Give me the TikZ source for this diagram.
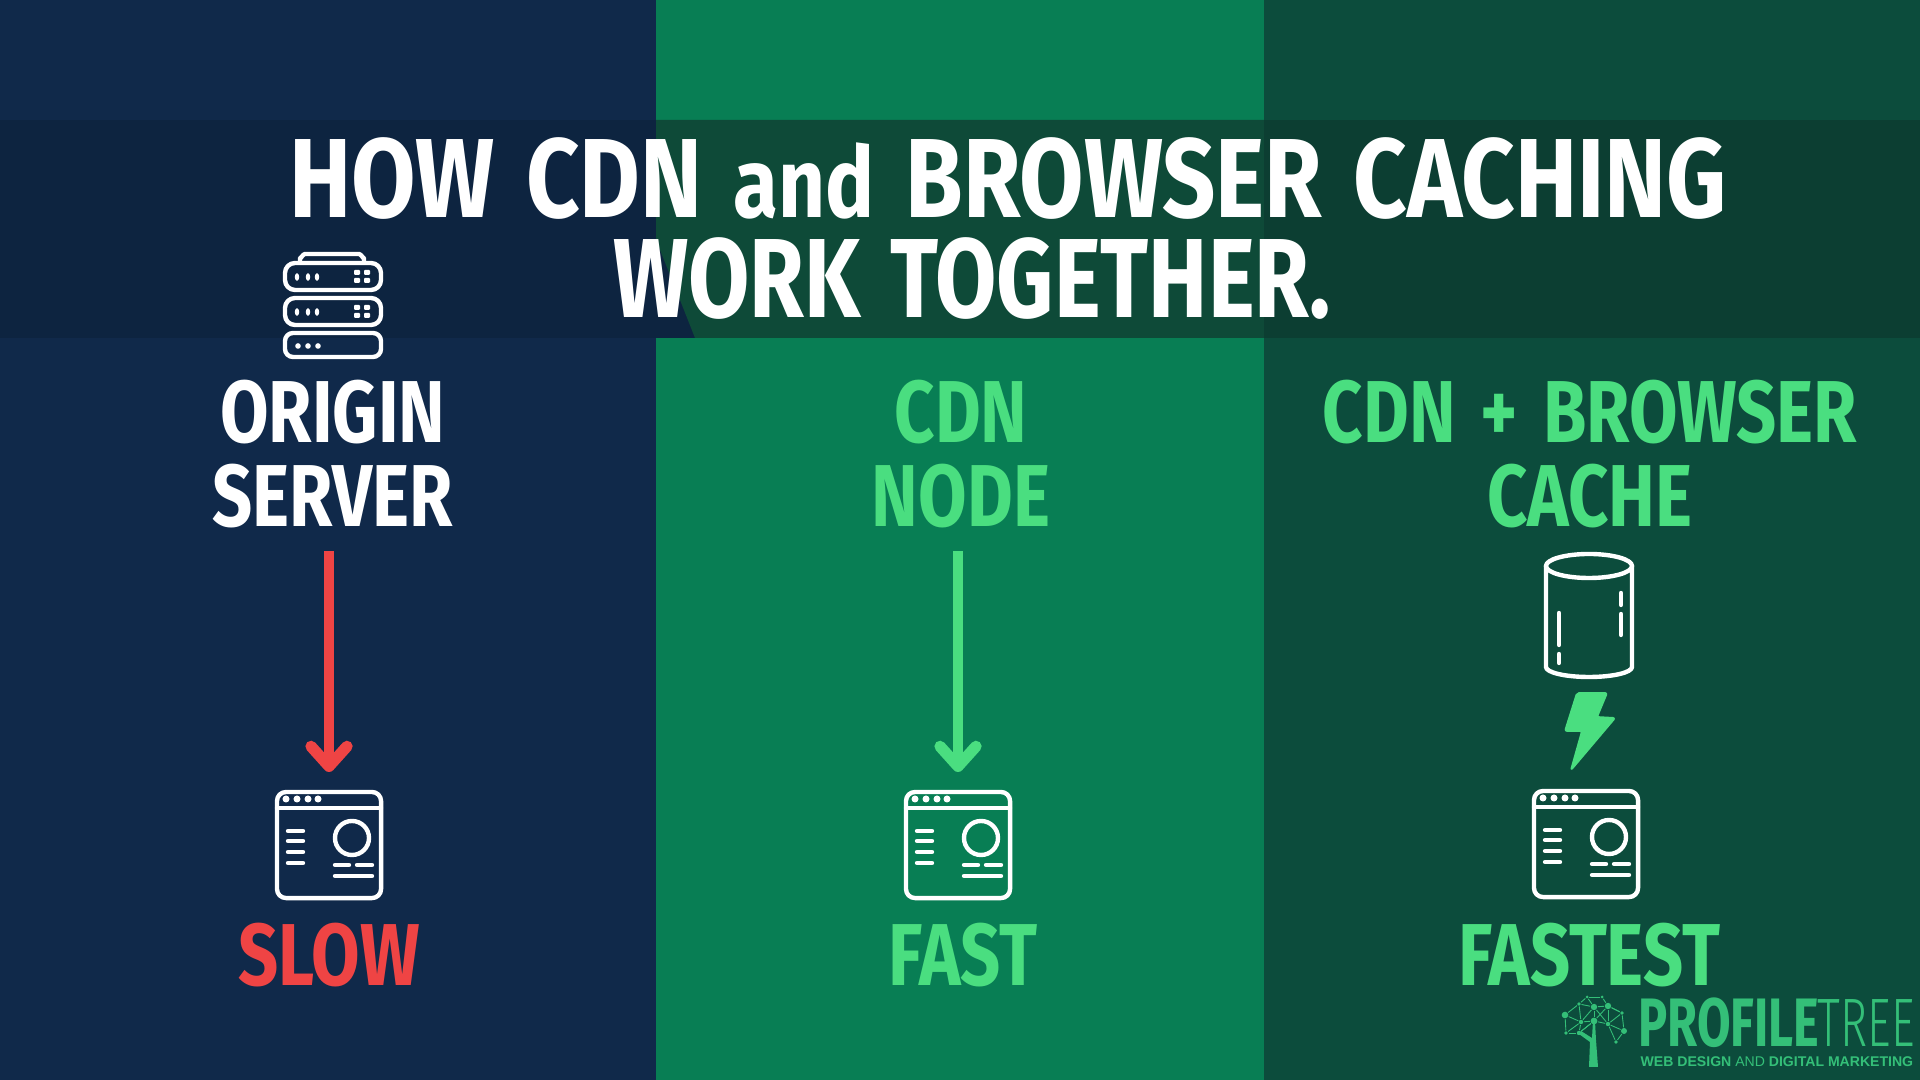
\documentclass[tikz,border=0pt]{standalone}
\usepackage{fontspec}
\setmainfont{Fira Sans}
\newfontfamily\headfont[FakeStretch=0.8,WordSpace=1.5]{Fira Sans}
\newfontfamily\titlefont[FakeStretch=0.83,WordSpace=1.4]{Fira Sans}
\newfontfamily\titlefontb[FakeStretch=0.79,WordSpace=1.4]{Fira Sans}
\newfontfamily\logofont[FakeStretch=0.71]{Fira Sans}
\newfontfamily\treefont[FakeStretch=0.67,UprightFont=* Light]{Fira Sans}
\newfontfamily\tagfont{Liberation Sans}
\definecolor{navypanel}{HTML}{10294A}
\definecolor{greenpanel}{HTML}{087E54}
\definecolor{darkpanel}{HTML}{0C4C3C}
\definecolor{bandnavy}{HTML}{0D2440}
\definecolor{bandgreen}{HTML}{0E4A38}
\definecolor{banddark}{HTML}{0C3E32}
\definecolor{fastgreen}{HTML}{4ADE80}
\definecolor{slowred}{HTML}{EF4444}
\definecolor{logogreen}{HTML}{34BF78}
\usetikzlibrary{arrows.meta,positioning,calc}
\tikzset{
    icon/.style={draw=white, line width=1.25pt, line cap=round, line join=round},
    dotmark/.style={fill=white, draw=none},
    title/.style={anchor=base, text=white, inner sep=0},
    label/.style={anchor=base, inner sep=0, font=\headfont\bfseries\fontsize{25}{25}\selectfont},
    flow/.style={line width=3.1pt, -{Straight Barb[round,length=2mm,width=3.6mm,line width=3.2pt]}, shorten <=2.2mm, shorten >=2mm},
    pics/browsericon/.style={code={
        \node[icon, rounded corners=0.9mm, minimum width=1.04cm, minimum height=1.06cm, inner sep=0, outer sep=0, anchor=north west] (-frame) at (0,0) {};
        \draw[icon] (0,16) -- (104,16);
        \foreach \x in {9,20,31,41} \fill[dotmark] (\x,7) circle (0.35mm);
        \foreach \y in {39,49,60,71} \draw[icon] (11,\y) -- (26,\y);
        \draw[icon] (75,46) circle (1.7mm);
        \draw[icon] (58,73) -- (72,73);
        \draw[icon] (80,73) -- (95,73);
        \draw[icon] (58,84) -- (95,84);
    }}
}

\begin{document}
\begin{tikzpicture}[x=0.01cm, y=-0.01cm]
    % Panels
    \fill[navypanel] (0,0) rectangle (656,1080);
    \fill[greenpanel] (656,0) rectangle (1264,1080);
    \fill[darkpanel] (1264,0) rectangle (1920,1080);

    % Title band
    \fill[bandnavy] (0,120) rectangle (700,338);
    \fill[bandgreen] (656,120) -- (1264,120) -- (1264,338) -- (695,338) -- (680,300) -- (656,240) -- cycle;
    \fill[banddark] (1264,120) rectangle (1920,338);
    \node[title, font=\titlefont\bfseries\fontsize{32}{32}\selectfont] (titleone) at (1008,218) {HOW CDN {\fontsize{28}{28}\selectfont and} BROWSER CACHING};
    \node[title, font=\titlefontb\bfseries\fontsize{32}{32}\selectfont] (titletwo) at (972,318) {WORK TOGETHER.};

    % Server icon
    \draw[icon] (300,262) -- (300,258) to[out=-90,in=180] (305,254) -- (359,254) to[out=0,in=-90] (364,258) -- (364,262);
    \draw[icon, rounded corners=1mm] (285,263) rectangle (381,290);
    \draw[icon, rounded corners=1mm] (285,298) rectangle (381,325);
    \draw[icon, rounded corners=0.8mm] (285,333) rectangle (381,357);
    \foreach \y in {277,312} {
        \foreach \x in {297,308,317} \fill[dotmark] (\x,\y) ellipse (0.22mm and 0.38mm);
        \foreach \x in {357,367} {
            \fill[dotmark, rounded corners=0.1mm] (\x-3,\y-7) rectangle (\x+3,\y-2);
            \fill[dotmark, rounded corners=0.1mm] (\x-3,\y+1) rectangle (\x+3,\y+6);
        }
    }
    \foreach \x in {298,308,318} \fill[dotmark] (\x,346) circle (0.28mm);

    % Column labels
    \node[label, text=white] (origin) at (333,443) {ORIGIN};
    \node[label, text=white] (server) at (333,527) {SERVER};
    \node[label, text=fastgreen] (cdn) at (961,443) {CDN};
    \node[label, text=fastgreen] (cdnnode) at (961,527) {NODE};
    \node[label, text=fastgreen] (both) at (1590,443) {CDN + BROWSER};
    \node[label, text=fastgreen] (cache) at (1590,527) {CACHE};

    % Browser icons
    \pic (slowb) at (277,792) {browsericon};
    \pic (fastb) at (906,792) {browsericon};
    \pic (bestb) at (1534,791) {browsericon};

    % Arrows
    \draw[flow, slowred] (server.south -| slowb-frame.north) -- (slowb-frame.north);
    \draw[flow, fastgreen] (cdnnode.south -| fastb-frame.north) -- (fastb-frame.north);

    % Cylinder
    \draw[icon] (1589,566) ellipse (0.43cm and 0.12cm);
    \draw[icon] (1546,566) -- (1546,667) arc[start angle=180, end angle=360, x radius=43, y radius=-10] -- (1632,566);
    \draw[icon] (1559,613) -- (1559,645);
    \draw[icon] (1559,654) -- (1559,663);
    \draw[icon] (1621,593) -- (1621,605);
    \draw[icon] (1621,614) -- (1621,635);

    % Bolt
    \fill[fastgreen, draw=fastgreen, line width=0.5pt, line join=round, rounded corners=0.2mm]
        (1577,693) -- (1607,693) -- (1597,717) -- (1615,718) -- (1571,770) -- (1582,731) -- (1565,731) -- cycle;

    % Speed labels
    \node[label, text=slowred] (slow) at (329,986) {SLOW};
    \node[label, text=fastgreen] (fast) at (963,986) {FAST};
    \node[label, text=fastgreen] (fastest) at (1589,986) {FASTEST};

    % Logo
    \foreach \i/\x/\y/\r in {1/65/35/3.3, 2/79/24/1.8, 3/87/17/1.5, 4/102/17/1.5, 5/94/27/3.2, 6/108/26/3.2, 7/122/33/1.8, 8/81/42/2.2,
                             9/94/41/3.4, 10/108/44/2.2, 11/124/51/3, 12/66/53/1.8, 13/79/53/2.2, 14/116/62/1.8}
        \node[circle, fill=logogreen, inner sep=0, minimum size=\r*0.2mm] (t\i) at (1500+\x,980+\y) {};
    \foreach \a/\b in {1/2,2/3,3/4,4/6,3/5,2/5,5/6,6/7,1/8,2/8,8/5,5/9,8/9,9/6,6/10,7/10,7/11,10/11,1/12,8/13,12/13,12/8,9/10,9/13,10/14,11/14,13/9,5/10,7/6}
        \draw[logogreen, line width=0.25pt] (t\a) -- (t\b);
    \fill[logogreen] (1589,1067) -- (1598,1067) -- (1596,1040) -- (1595,1021) -- (1593,1021) -- (1592,1038) -- (1581,1031) -- (1579,1034) -- (1590,1042) -- cycle;
    \node[anchor=base west, inner sep=0, text=logogreen, font=\logofont\bfseries\fontsize{19.5}{19.5}\selectfont] (profile) at (1638,1047) {PROFILE};
    \node[anchor=base west, inner sep=0, text=logogreen, font=\treefont\fontsize{19.5}{19.5}\selectfont] (tree) at (1817,1047) {TREE};
    \node[anchor=base west, inner sep=0, text=logogreen, font=\tagfont\fontsize{4}{4}\selectfont] (tagline) at (1640,1067) {\textbf{WEB DESIGN} AND \textbf{DIGITAL MARKETING}};
\end{tikzpicture}
\end{document}
